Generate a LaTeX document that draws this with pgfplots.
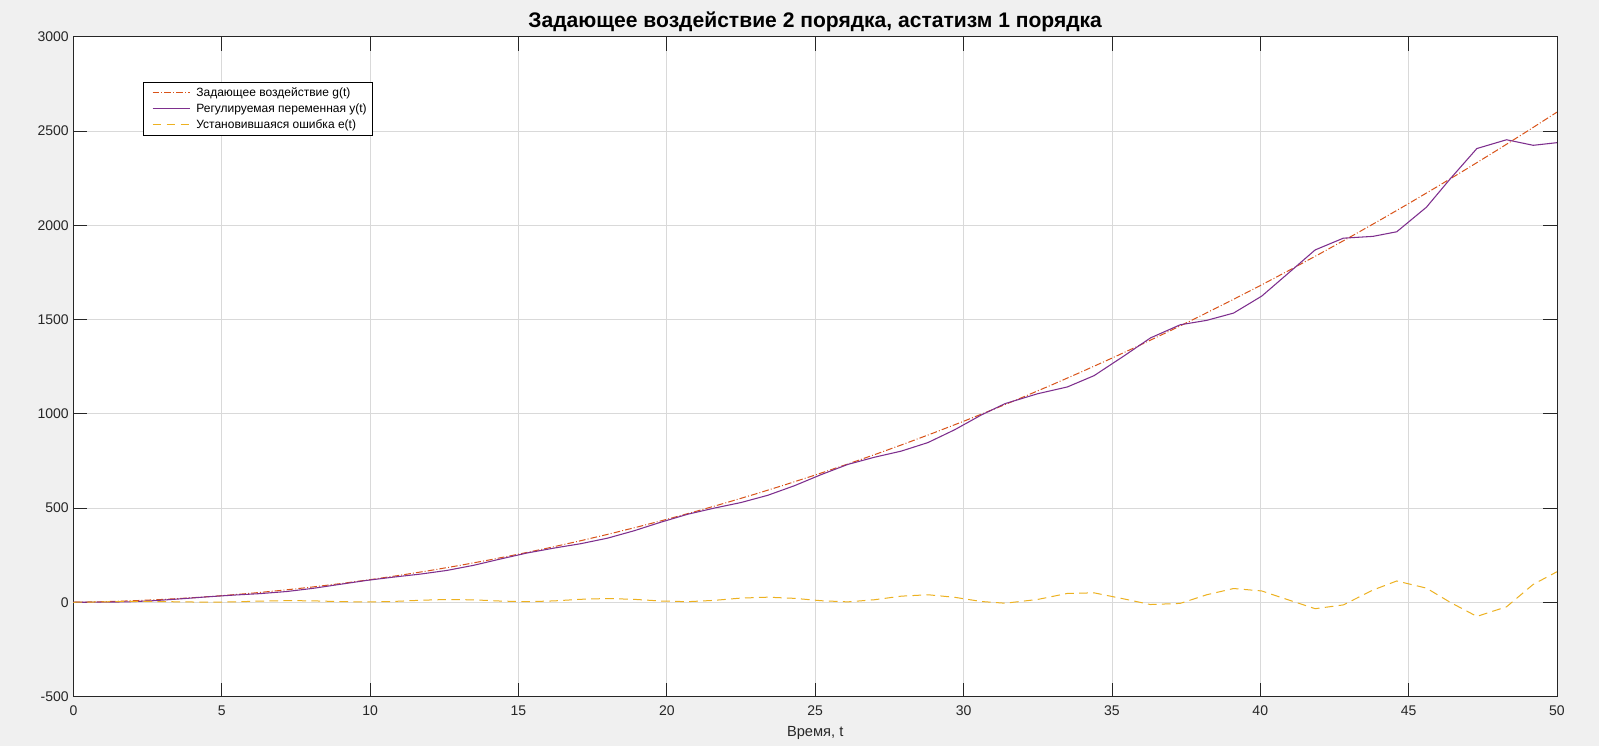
\documentclass[border=0pt]{standalone}
\usepackage{pgfplots}
\pgfplotsset{compat=1.18}
\usepackage{fontspec}
\setmainfont{Liberation Sans}
\definecolor{bg}{HTML}{F0F0F0}
\definecolor{cg}{HTML}{D95319}
\definecolor{cy}{HTML}{7E2F8E}
\definecolor{ce}{HTML}{EDB120}
\definecolor{ax}{HTML}{262626}
\begin{document}
\begin{tikzpicture}
\fill[bg] (0,0) rectangle (1199.25pt,559.5pt);
\begin{axis}[
  name=ax,
  at={(55.05pt,37.1pt)}, anchor=south west,
  width=1112.7pt, height=494.85pt, scale only axis,
  xmin=0, xmax=50, ymin=-500, ymax=3000,
  xtick={0,5,...,50}, ytick={-500,0,...,3000},
  grid=major, grid style={color=black!15, line width=0.5pt},
  axis line style={ax, line width=0.6pt},
  major tick length=10.5pt, tick style={ax, line width=0.6pt},
  tick label style={font=\fontsize{10.5}{12}\selectfont, text=ax},
  xticklabel style={yshift=-3.5pt},
  /pgf/number format/assume math mode=true,
  /pgf/number format/1000 sep={},
  scaled ticks=false,
  xlabel={Время, t},
  xlabel style={font=\fontsize{11}{13}\selectfont, text=ax, yshift=-1pt},
  axis background/.style={fill=white},
  legend style={at={(rel axis cs:0.0469,0.932)}, anchor=north west,
    font=\fontsize{9}{12}\selectfont, line width=0.5pt, fill=white,
    row sep=0pt, inner xsep=2pt, inner ysep=2pt, cells={anchor=west}},
  legend image code/.code={\path (0pt,0pt) (35pt,0pt); \draw[#1] (4.5pt,0pt) -- (32.5pt,0pt);},
]
\addplot[color=cg, line width=0.75pt, dash pattern=on 5pt off 1.6pt on 0.7pt off 1.6pt] coordinates {
(0,0) (1,3) (2,8) (3,15) (4,24) (5,35) (6,48) (7,63) (8,80) (9,99)
(10,120) (11,143) (12,168) (13,195) (14,224) (15,255) (16,288) (17,323) (18,360) (19,399)
(20,440) (21,483) (22,528) (23,575) (24,624) (25,675) (26,728) (27,783) (28,840) (29,899)
(30,960) (31,1023) (32,1088) (33,1155) (34,1224) (35,1295) (36,1368) (37,1443) (38,1520) (39,1599)
(40,1680) (41,1763) (42,1848) (43,1935) (44,2024) (45,2115) (46,2208) (47,2303) (48,2400) (49,2499)
(50,2600)};
\addlegendentry{Задающее воздействие g(t)}
\addplot[color=cy, line width=0.8pt] coordinates {
(0,0) (0.9,0.7) (1.8,2.0) (2.7,8.3) (3.6,18.0) (4.5,28.7) (5.4,38.1) (6.3,46.0) (7.2,57.2) (8.1,74.4)
(9.0,95.5) (9.9,116.3) (10.8,133.7) (11.7,149.6) (12.6,169.2) (13.5,196.5) (14.4,229.8) (15.3,261.7) (16.2,287.5) (17.1,310.8)
(18.0,340) (18.9,379.5) (19.8,424.9) (20.7,466.8) (21.6,499.6) (22.5,529.1) (23.4,567.4) (24.3,618.3) (25.2,677.1) (26.1,731.3)
(27.0,769.5) (27.9,801.8) (28.8,847.1) (29.7,915.1) (30.6,993.6) (31.4,1053.8) (32.5,1106.3) (33.5,1142.3) (34.4,1202.2) (35.4,1306.0)
(36.3,1402.3) (37.3,1471.9) (38.2,1495.6) (39.1,1534.0) (40.05,1624.1) (41.0,1753) (41.85,1869.1) (42.8,1931.4) (43.8,1941.0) (44.6,1965.4)
(45.6,2095.6) (46.4,2245.8) (47.3,2406.9) (48.3,2453.5) (49.2,2424.0) (50,2438)};
\addlegendentry{Регулируемая переменная y(t)}
\addplot[color=ce, line width=0.75pt, dash pattern=on 6.5pt off 4pt] coordinates {
(0,0) (0.9,1.9) (1.8,4.8) (2.7,4.4) (3.6,2.2) (4.5,0.6) (5.4,1.9) (6.3,6.3) (7.2,9.0) (8.1,7.4)
(9.0,3.5) (9.9,1.5) (10.8,4.5) (11.7,10.7) (12.6,14.8) (13.5,12.8) (14.4,6.4) (15.3,3) (16.2,7.3) (17.1,15.8)
(18.0,20) (18.9,15.5) (19.8,6.7) (20.7,3.1) (21.6,10.2) (22.5,22.2) (23.4,27) (24.3,20.8) (25.2,8.3) (26.1,2.1)
(27.0,13.5) (27.9,32.4) (28.8,39.9) (29.7,26.4) (30.6,4) (31.4,-5) (32.5,15) (33.5,47) (34.4,50) (35.4,18)
(36.3,-12) (37.3,-6) (38.2,40) (39.1,73) (40.05,60) (41.0,10) (41.85,-34) (42.8,-14) (43.8,65) (44.6,113)
(45.6,75) (46.4,0) (47.3,-75) (48.3,-24) (49.2,95) (50,162)};
\addlegendentry{Установившаяся ошибка e(t)}
\end{axis}
\node[font=\bfseries\fontsize{15.8}{18}\selectfont, anchor=base, text=black] at ([yshift=7pt]ax.north) {Задающее воздействие 2 порядка, астатизм 1 порядка};
\end{tikzpicture}
\end{document}
